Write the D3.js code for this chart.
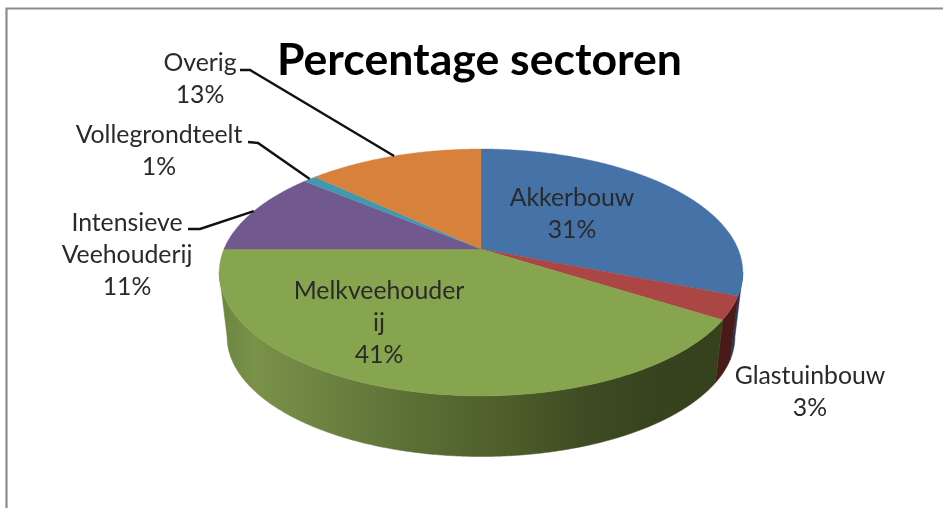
<!DOCTYPE html>
<html>
<head>
<meta charset="utf-8">
<script src="https://cdn.jsdelivr.net/npm/d3@7/dist/d3.min.js"></script>
<style>
html,body{margin:0;padding:0;background:#fff;overflow:hidden}
text{font-family:Lato,"Open Sans",sans-serif}
</style>
</head>
<body>
<svg id="chart" width="943" height="508"></svg>
<script>
const titleText = "Percentage sectoren";
const categories = ["Akkerbouw","Glastuinbouw","Melkveehouderij","Intensieve Veehouderij","Vollegrondteelt","Overig"];
const values = [31,3,41,11,1,13];
const topColors = ["#4572A7","#AA4643","#87A44E","#71588F","#4198AF","#D8813C"];
const wallColors = ["#233D60","#4A1A18",null,"#3F3050","#1F4E5C","#7A4820"];

// layout only (label anchors, wrapped text, leader elbows)
const labelLines = [["Akkerbouw"],["Glastuinbouw"],["Melkveehouder","ij"],["Intensieve","Veehouderij"],["Vollegrondteelt"],["Overig"]];
const labelAnchors = [[572,206],[810,384],[379,299],[127,231],[159,143],[200,71]];
const leaderStarts = [null,null,null,[[188,229],[200,229]],[[248,142],[258,143]],[[240,70],[250,70]]];

const svg = d3.select("#chart");
const width = 943, height = 508;

// frame
svg.append("path").attr("d","M6.5,508V8.5H943").attr("fill","none").attr("stroke","#8c8c8c").attr("stroke-width",2.2);

// perspective projection of the pie plane
const apexX = 481, apexY = 249, k = 0.19, A = 257, B = 119;
const depth = 65, baseScale = 0.97;
const sx = d3.scaleLinear().domain([-1,1]).range([-A,A]);
const sy = d3.scaleLinear().domain([-1,1]).range([B,-B]);
function project(theta, r, yOff, s){
  const u = r*Math.sin(theta), v = r*Math.cos(theta), w = 1 + k*v;
  return [apexX + s*sx(u)/w, apexY + yOff + s*sy(v)/w];
}
const rimTop = t => project(t,1,0,1);
const rimBase = t => project(t,1,depth,baseScale);
const line = d3.line();
const arcs = d3.pie().sort(null).value(d=>d)(values);
const step = Math.PI/360;
const samples = (a,b) => { const s = d3.range(a,b,step); s.push(b); return s; };

// walls: front arc between the two silhouette angles
const visFrom = Math.PI - Math.acos(k), visTo = Math.PI + Math.acos(k);
const defs = svg.append("defs");
const soft = defs.append("filter").attr("id","soft").attr("x","-5%").attr("y","-5%").attr("width","110%").attr("height","110%");
soft.append("feGaussianBlur").attr("stdDeviation",0.45);
const grad = defs.append("linearGradient").attr("id","wall").attr("gradientUnits","userSpaceOnUse")
  .attr("x1",226).attr("x2",722).attr("y1",0).attr("y2",0);
[[0,"#6E8842"],[0.06,"#7A9148"],[0.18,"#6F8543"],[0.38,"#5B6F35"],[0.58,"#4C5C2A"],[0.72,"#3F4C23"],[0.86,"#37431E"],[1,"#36421D"]]
  .forEach(d=>grad.append("stop").attr("offset",d[0]).attr("stop-color",d[1]));
arcs.forEach((a,i)=>{
  const s = Math.max(a.startAngle,visFrom), e = Math.min(a.endAngle,visTo);
  if(e<=s) return;
  const ts = samples(s,e);
  const pts = ts.map(rimTop).concat(ts.slice().reverse().map(rimBase));
  svg.append("path").attr("d",line(pts)+"Z")
    .attr("fill", wallColors[i] || "url(#wall)")
    .attr("stroke", wallColors[i] || "url(#wall)").attr("stroke-width",0.5);
});

// top faces
arcs.forEach((a,i)=>{
  const pts = [[apexX,apexY]].concat(samples(a.startAngle,a.endAngle).map(rimTop));
  svg.append("path").attr("d",line(pts)+"Z").attr("fill",topColors[i]).attr("stroke",topColors[i]).attr("stroke-width",0.4);
});

// leaders
arcs.forEach((a,i)=>{
  if(!leaderStarts[i]) return;
  const pts = leaderStarts[i].concat([rimTop((a.startAngle+a.endAngle)/2)]);
  svg.append("path").attr("d",line(pts)).attr("fill","none").attr("stroke","#111").attr("stroke-width",2.4);
});

// labels
const fs = 24.8, lh = 32;
categories.forEach((c,i)=>{
  const [x,y] = labelAnchors[i];
  const ls = labelLines[i].concat([values[i]+"%"]);
  ls.forEach((t,j)=>{
    svg.append("text").attr("x",x).attr("y",y+j*lh).attr("text-anchor","middle")
      .attr("font-size",fs).attr("fill","#2a2a2a").attr("filter","url(#soft)").text(t);
  });
});

// title
svg.append("text").attr("x",479.5).attr("y",75).attr("text-anchor","middle")
  .attr("font-size",44.6).attr("font-weight",700).attr("fill","#000").attr("filter","url(#soft)").text(titleText);
</script>
</body>
</html>
